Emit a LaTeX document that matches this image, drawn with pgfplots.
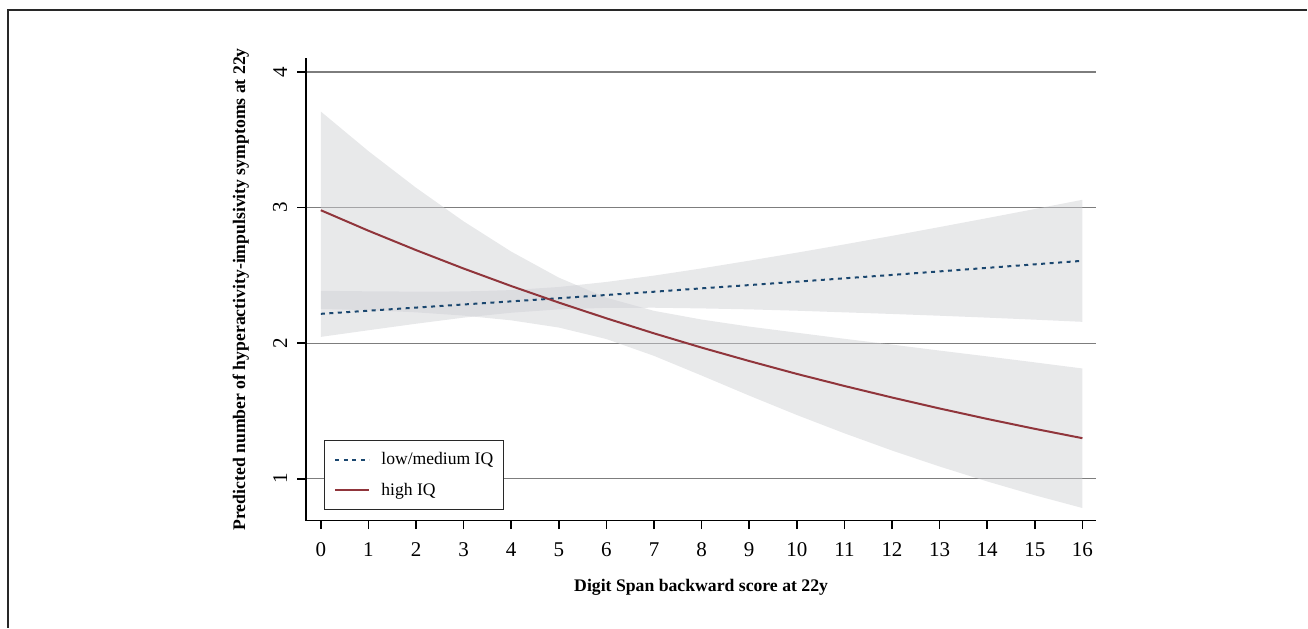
\documentclass[border=0pt]{standalone}
\usepackage{fontspec}
\setmainfont{Liberation Serif}
\usepackage{pgfplots}
\pgfplotsset{compat=1.18}
\usepackage{pgfplotstable}
\definecolor{stnavy}{RGB}{26,71,111}
\definecolor{stcran}{RGB}{144,53,59}
\definecolor{bandc}{RGB}{207,208,212}
\definecolor{gridc}{RGB}{125,125,125}
\definecolor{framec}{RGB}{40,40,40}

% low/medium IQ: x, prediction
\pgfplotstableread{
x pred
0 2.216
1 2.239
2 2.262
3 2.285
4 2.308
5 2.331
6 2.355
7 2.379
8 2.404
9 2.428
10 2.453
11 2.478
12 2.503
13 2.529
14 2.555
15 2.581
16 2.607
}\lowtab

% high IQ
\pgfplotstableread{
x pred
0 2.980
1 2.829
2 2.686
3 2.550
4 2.421
5 2.299
6 2.183
7 2.072
8 1.967
9 1.868
10 1.773
11 1.684
12 1.599
13 1.518
14 1.441
15 1.368
16 1.299
}\hightab

\begin{document}
\begin{tikzpicture}
\path (0,0) rectangle (1308bp,628bp);
\draw[framec, line width=1.5bp] (8bp,0) -- (8bp,618bp) -- (1308bp,618bp);
\begin{axis}[
  at={(306bp,107bp)}, anchor=south west,
  scale only axis, width=791bp, height=463bp,
  xmin=-0.315, xmax=16.294, ymin=0.6904, ymax=4.103,
  axis x line*=bottom, axis y line*=left,
  axis line style={line width=1.6bp, black},
  xtick={0,...,16}, ytick={1,2,3,4},
  tick align=outside, major tick length=8.5bp,
  tick style={line width=1.6bp, black},
  ymajorgrids, grid style={gridc, line width=1.2bp},
  /pgf/number format/assume math mode=true,
  ticklabel style={font=\fontsize{21bp}{23bp}\selectfont},
  xticklabel style={anchor=north, inner sep=0pt},
  yticklabel style={rotate=90, anchor=south, inner sep=0pt},
  xticklabel shift=13bp,
  yticklabel shift=10bp,
  xlabel={Digit Span backward score at 22y},
  ylabel={Predicted number of hyperactivity-impulsivity symptoms at 22y},
  label style={font=\bfseries\fontsize{17.7bp}{20bp}\selectfont},
  xlabel style={at={(axis description cs:0.5,-0.145)}, anchor=center},
  ylabel style={at={(axis description cs:-0.0822,0.5)}, anchor=center},
  legend style={at={(axis description cs:0.02276,0.02376)}, anchor=south west,
    draw=framec, line width=1.2bp, fill=white,
    font=\fontsize{17.6bp}{20bp}\selectfont,
    nodes={inner sep=0pt},
    inner xsep=10bp, inner ysep=12bp, row sep=17bp,
    cells={anchor=west}},
  legend image code/.code={\draw[#1] (0bp,0bp) -- (34bp,0bp); \path (45bp,0bp);},
]
% 95% CI band, low/medium IQ (upper edge, then lower edge back)
\addplot[fill=bandc, fill opacity=0.48, draw=none, forget plot] coordinates {
 (0,2.386) (1,2.382) (2,2.380) (3,2.381) (4,2.391) (5,2.414) (6,2.451) (7,2.498)
 (8,2.551) (9,2.608) (10,2.667) (11,2.728) (12,2.791) (13,2.856) (14,2.922)
 (15,2.989) (16,3.057)
 (16,2.157) (15,2.173) (14,2.188) (13,2.202) (12,2.215) (11,2.227) (10,2.239)
 (9,2.249) (8,2.256) (7,2.261) (6,2.260) (5,2.249) (4,2.224) (3,2.188)
 (2,2.143) (1,2.095) (0,2.046)
} -- cycle;
% 95% CI band, high IQ
\addplot[fill=bandc, fill opacity=0.48, draw=none, forget plot] coordinates {
 (0,3.708) (1,3.416) (2,3.146) (3,2.898) (4,2.675) (5,2.483) (6,2.335) (7,2.238)
 (8,2.174) (9,2.122) (10,2.077) (11,2.032) (12,1.989) (13,1.945) (14,1.902)
 (15,1.858) (16,1.813)
 (16,0.784) (15,0.878) (14,0.980) (13,1.090) (12,1.208) (11,1.335) (10,1.470)
 (9,1.613) (8,1.761) (7,1.906) (6,2.030) (5,2.115) (4,2.168) (3,2.203)
 (2,2.227) (1,2.243) (0,2.252)
} -- cycle;
\addplot[stnavy, line width=2bp, dash pattern=on 4bp off 4.5bp] table[x=x, y=pred] {\lowtab};
\addlegendentry{low/medium IQ}
\addplot[stcran, line width=2bp] table[x=x, y=pred] {\hightab};
\addlegendentry{high IQ}
\end{axis}
\end{tikzpicture}
\end{document}
